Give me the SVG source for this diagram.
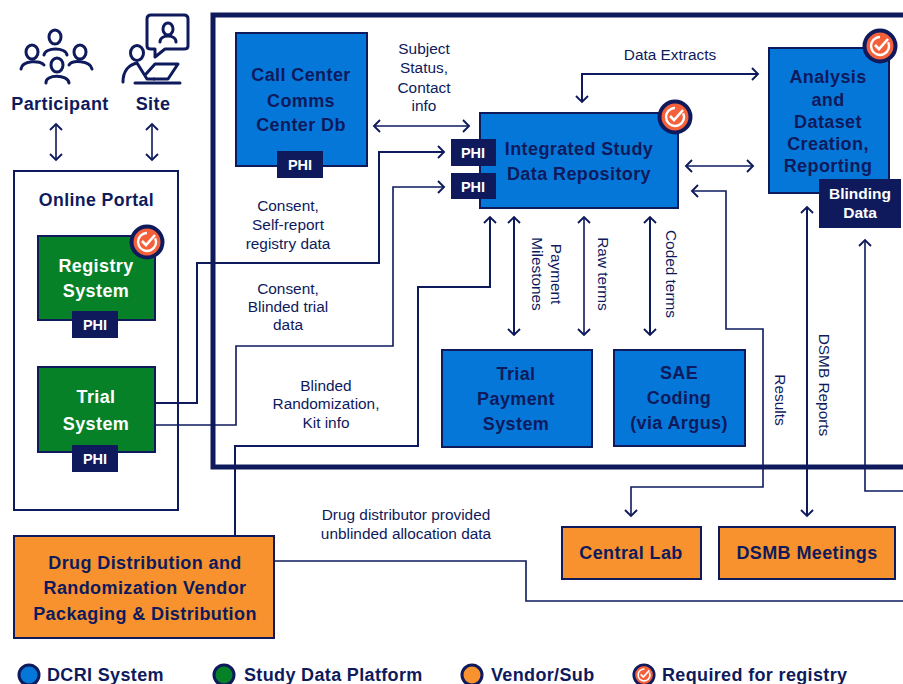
<svg xmlns="http://www.w3.org/2000/svg" width="903" height="684" viewBox="0 0 903 684">
<style>
text{font-family:"Liberation Sans",Arial,sans-serif;fill:#0e1a5c}
.b{font-weight:700}
.l{font-size:15.4px;text-anchor:middle}
.n{font-size:18px;font-weight:700;text-anchor:middle;letter-spacing:.4px}
.w{fill:#fff}
.p{font-size:14.5px;font-weight:700;text-anchor:middle;fill:#fff}
.box{stroke:#0e1a5c;stroke-width:2}
.blue{fill:#0577d8}.green{fill:#078128}.orange{fill:#f7922e}
.tag{fill:#0e1a5c}
.c{fill:none;stroke:#0e1a5c;stroke-width:2}
.t{stroke-width:1.6}
.i{fill:none;stroke:#0e1a5c;stroke-width:3;stroke-linecap:round;stroke-linejoin:round}
.leg{font-size:18px;font-weight:700;letter-spacing:.35px}
</style>
<defs>
<marker id="a" viewBox="0 0 14 14" refX="12" refY="7" markerWidth="14" markerHeight="14" markerUnits="userSpaceOnUse" orient="auto-start-reverse"><path d="M6 1L12 7L6 13" fill="none" stroke="#0e1a5c" stroke-width="1.9"/></marker>
<g id="chk"><circle r="15.5" fill="#f4603a" stroke="#0e1a5c" stroke-width="4"/><circle r="9" fill="none" stroke="#fff" stroke-width="2.4" stroke-dasharray="46 11" transform="rotate(-25)"/><path d="M-5 -1L-1 3L8 -7" fill="none" stroke="#fff" stroke-width="2.6"/></g>
</defs>
<rect width="903" height="684" fill="#fff"/>
<rect x="213" y="15" width="696" height="452" fill="none" stroke="#0e1a5c" stroke-width="5"/>
<g id="participant">
<g class="i"><ellipse cx="55" cy="37" rx="6" ry="7"/><path d="M44 55C45 47 66 47 67 55"/><ellipse cx="32" cy="52" rx="6" ry="7"/><path d="M21 69C22 60 41 60 44 65"/><ellipse cx="80" cy="52" rx="6" ry="7"/><path d="M69 65C72 60 90 60 92 69"/><ellipse cx="57" cy="65" rx="6" ry="7"/><path d="M46 83C45 74 68 74 69 83"/></g>
<text x="60" y="110" class="b" font-size="18" text-anchor="middle" letter-spacing=".4">Participant</text></g>
<g id="site">
<g class="i"><path d="M151 15H184Q188 15 188 19V46Q188 49 184 49H165L155 57V49H151Q147 49 147 46V19Q147 15 151 15Z"/><ellipse cx="168" cy="29" rx="5" ry="6"/><path d="M160 42C160 34 176 34 176 42"/><ellipse cx="137" cy="53" rx="6.5" ry="7.5"/><path d="M123 82C123 72 128 65 137 63L147 79H154"/><path d="M146 74L155 64H178L168 79H154"/><path d="M135 83H180"/></g>
<text x="153" y="110" class="b" font-size="18" text-anchor="middle" letter-spacing=".4">Site</text></g>
<g id="portal"><rect x="14" y="171" width="164" height="339" fill="#fff" stroke="#0e1a5c" stroke-width="2"/><text x="96.500" y="206" class="b" font-size="17.700" text-anchor="middle" letter-spacing=".4">Online Portal</text></g>
<g id="registry"><rect x="38" y="236" width="117" height="84" class="box green"/><text x="96" y="272" class="n w">Registry</text><text x="96" y="297" class="n w">System</text><rect x="72" y="311" width="46" height="27" class="tag"/><text x="95" y="330" class="p">PHI</text><use href="#chk" x="147" y="242"/></g>
<g id="trial"><rect x="38" y="367" width="117" height="85" class="box green"/><text x="96" y="403" class="n w">Trial</text><text x="96" y="430" class="n w">System</text><rect x="72" y="445" width="46" height="27" class="tag"/><text x="95" y="464" class="p">PHI</text></g>
<g id="callcenter"><rect x="236" y="33" width="131" height="133" class="box blue"/><text x="301" y="81" class="n">Call Center</text><text x="301" y="107" class="n">Comms</text><text x="301" y="131" class="n">Center Db</text><rect x="277" y="151" width="46" height="27" class="tag"/><text x="300" y="170" class="p">PHI</text></g>
<g id="repository"><rect x="480" y="113" width="198" height="95" class="box blue"/><text x="579" y="155" class="n">Integrated Study</text><text x="579" y="180" class="n">Data Repository</text><rect x="451" y="139" width="45" height="27" class="tag"/><text x="473" y="158" class="p">PHI</text><rect x="451" y="173" width="45" height="26" class="tag"/><text x="473" y="192" class="p">PHI</text><use href="#chk" x="675" y="117"/></g>
<g id="analysis"><rect x="769" y="48" width="120" height="145" class="box blue"/><text x="828" y="83" class="n">Analysis</text><text x="828" y="106" class="n">and</text><text x="828" y="128" class="n">Dataset</text><text x="828" y="150" class="n">Creation,</text><text x="828" y="172" class="n">Reporting</text><use href="#chk" x="880" y="46"/><rect x="819" y="179" width="82" height="49" class="tag"/><text x="860" y="199" class="p" style="font-size:15.500px">Blinding</text><text x="860" y="218" class="p" style="font-size:15.500px">Data</text></g>
<g id="payment"><rect x="442" y="350" width="150" height="97" class="box blue"/><text x="516" y="380" class="n">Trial</text><text x="516" y="405" class="n">Payment</text><text x="516" y="430" class="n">System</text></g>
<g id="sae"><rect x="614" y="350" width="131" height="96" class="box blue"/><text x="679" y="379" class="n">SAE</text><text x="679" y="404" class="n">Coding</text><text x="679" y="429" class="n">(via Argus)</text></g>
<g id="vendor"><rect x="14" y="536" width="260" height="102" class="box orange"/><text x="145" y="569" class="n">Drug Distribution and</text><text x="145" y="594" class="n">Randomization Vendor</text><text x="145" y="620" class="n">Packaging &amp; Distribution</text></g>
<g id="lab"><rect x="562" y="527" width="139" height="52" class="box orange"/><text x="631" y="559" class="n">Central Lab</text></g>
<g id="dsmb"><rect x="719" y="527" width="176" height="52" class="box orange"/><text x="807" y="559" class="n">DSMB Meetings</text></g>
<g id="connectors">
<path d="M56 124V160" class="c t" marker-start="url(#a)" marker-end="url(#a)"/>
<path d="M152 124V160" class="c t" marker-start="url(#a)" marker-end="url(#a)"/>
<path d="M374 126H469" class="c t" marker-start="url(#a)" marker-end="url(#a)"/>
<path d="M156 403H197V263H379V152H444" class="c" marker-end="url(#a)"/>
<path d="M156 425H236V346H393V187H444" class="c t" marker-end="url(#a)"/>
<path d="M235 535V446H418V287H490V217" class="c" marker-end="url(#a)"/>
<path d="M582 102V74H758" class="c" marker-start="url(#a)" marker-end="url(#a)"/>
<path d="M686 166H753" class="c t" marker-start="url(#a)" marker-end="url(#a)"/>
<path d="M514 217V335" class="c" marker-start="url(#a)" marker-end="url(#a)"/>
<path d="M584 217V335" class="c t" marker-start="url(#a)" marker-end="url(#a)"/>
<path d="M650 217V335" class="c" marker-start="url(#a)" marker-end="url(#a)"/>
<path d="M692 191H726V329H763V487H631V516" class="c t" marker-start="url(#a)" marker-end="url(#a)"/>
<path d="M807 207V516" class="c" marker-start="url(#a)" marker-end="url(#a)"/>
<path d="M903 491H865V240" class="c t" marker-end="url(#a)"/>
<path d="M275 561H526V601H903" class="c t"/>
</g>
<g id="labels">
<text x="424" y="54" class="l">Subject</text><text x="424" y="73" class="l">Status,</text><text x="424" y="93" class="l">Contact</text><text x="424" y="111" class="l">info</text>
<text x="670" y="60" class="l">Data Extracts</text>
<text x="288" y="211" class="l">Consent,</text><text x="288" y="230" class="l">Self-report</text><text x="288" y="249" class="l">registry data</text>
<text x="288" y="294" class="l">Consent,</text><text x="288" y="312" class="l">Blinded trial</text><text x="288" y="330" class="l">data</text>
<text x="326" y="391" class="l">Blinded</text><text x="326" y="409" class="l">Randomization,</text><text x="326" y="428" class="l">Kit info</text>
<text x="406" y="520" class="l">Drug distributor provided</text><text x="406" y="539" class="l">unblinded allocation data</text>
<text class="l" transform="translate(551 274) rotate(90)">Payment</text><text class="l" transform="translate(532 274) rotate(90)">Milestones</text>
<text class="l" transform="translate(598 274) rotate(90)">Raw terms</text>
<text class="l" transform="translate(666 274) rotate(90)">Coded terms</text>
<text class="l" transform="translate(775 400) rotate(90)">Results</text>
<text class="l" transform="translate(819 385) rotate(90)">DSMB Reports</text>
</g>
<g id="legend">
<circle cx="29" cy="675" r="10" fill="#0577d8" stroke="#0e1a5c" stroke-width="3"/><text x="47" y="681" class="leg">DCRI System</text>
<circle cx="224" cy="675" r="10" fill="#078128" stroke="#0e1a5c" stroke-width="3"/><text x="244" y="681" class="leg">Study Data Platform</text>
<circle cx="472" cy="675" r="10" fill="#f7922e" stroke="#0e1a5c" stroke-width="3"/><text x="491" y="681" class="leg">Vendor/Sub</text>
<use href="#chk" transform="translate(644 675) scale(.66)"/><text x="662" y="681" class="leg">Required for registry</text>
</g>
</svg>
